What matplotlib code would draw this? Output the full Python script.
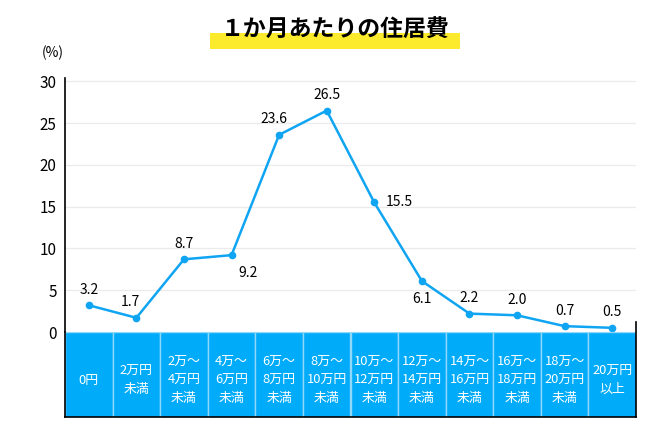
import matplotlib.pyplot as plt
from matplotlib.patches import Rectangle

plt.rcParams['font.family'] = ['Noto Sans CJK JP', 'DejaVu Sans']

categories = ["0円", "2万円\n未満", "2万～\n4万円\n未満", "4万～\n6万円\n未満",
              "6万～\n8万円\n未満", "8万～\n10万円\n未満", "10万～\n12万円\n未満",
              "12万～\n14万円\n未満", "14万～\n16万円\n未満", "16万～\n18万円\n未満",
              "18万～\n20万円\n未満", "20万円\n以上"]
values = [3.2, 1.7, 8.7, 9.2, 23.6, 26.5, 15.5, 6.1, 2.2, 2.0, 0.7, 0.5]
yticks = [0, 5, 10, 15, 20, 25, 30]

# where each value label sits relative to its point (dx, dy in points, ha, va)
label_pos = [(0, 6, "center", "bottom"), (-4, 6, "center", "bottom"),
             (0, 6, "center", "bottom"), (12, -8, "center", "top"),
             (-4, 6, "center", "bottom"), (0, 6, "center", "bottom"),
             (8, 0, "left", "center"), (0, -8, "center", "top"),
             (0, 6, "center", "bottom"), (0, 6, "center", "bottom"),
             (0, 6, "center", "bottom"), (0, 6, "center", "bottom")]

blue = "#10A5F2"
box_blue = "#00ABFA"

fig = plt.figure(figsize=(6.7, 4.4), dpi=100)
ax = fig.add_axes([65 / 670, (440 - 332) / 440, 571 / 670, 254 / 440])
ax_box = fig.add_axes([65 / 670, (440 - 417) / 440, 571 / 670, 85 / 440])

x = list(range(len(values)))
ax.plot(x, values, color=blue, lw=1.8, marker="o", ms=4.5, zorder=3)
for xi, v, (dx, dy, ha, va) in zip(x, values, label_pos):
    ax.annotate(f"{v:.1f}", (xi, v), xytext=(dx, dy), textcoords="offset points",
                ha=ha, va=va, fontsize=10)

ax.set_xlim(-0.5, len(values) - 0.5)
ax.set_ylim(0, 30.4)
ax.set_yticks(yticks)
ax.tick_params(axis="y", length=0, labelsize=11, pad=6)
ax.set_xticks([])
ax.grid(axis="y", color="#EBEBEB", lw=0.9)
ax.set_axisbelow(True)
for s in ["top", "bottom", "right"]:
    ax.spines[s].set_visible(False)
ax.spines["left"].set_linewidth(1.2)
ax.text(-0.022, 1.07, "(%)", transform=ax.transAxes, ha="center", va="bottom", fontsize=10)

# category boxes under the plot
ax_box.set_xlim(-0.5, len(values) - 0.5)
ax_box.set_ylim(0, 1)
for xi, cat in zip(x, categories):
    ax_box.add_patch(Rectangle((xi - 0.5, 0), 1, 1, facecolor=box_blue,
                               edgecolor="#8FD8FA", lw=1))
    ax_box.text(xi, 0.43, cat, ha="center", va="center", color="white",
                fontsize=9.3, linespacing=1.55)
ax_box.set_xticks([])
ax_box.set_yticks([])
ax_box.spines["top"].set_visible(False)
for s in ["left", "bottom", "right"]:
    ax_box.spines[s].set_linewidth(1.2)
ax_box.spines["right"].set_bounds(0, 1.12)

# title with yellow marker underline
fig.patches.append(Rectangle((210 / 670, (440 - 49) / 440), 250 / 670, 16 / 440,
                             transform=fig.transFigure, facecolor="#FCEB2C",
                             edgecolor="none", zorder=0))
fig.text(335 / 670, (440 - 30) / 440, "１か月あたりの住居費", ha="center", va="center",
         fontsize=16.5, fontweight="bold")

fig.savefig("out.png", dpi=100)
